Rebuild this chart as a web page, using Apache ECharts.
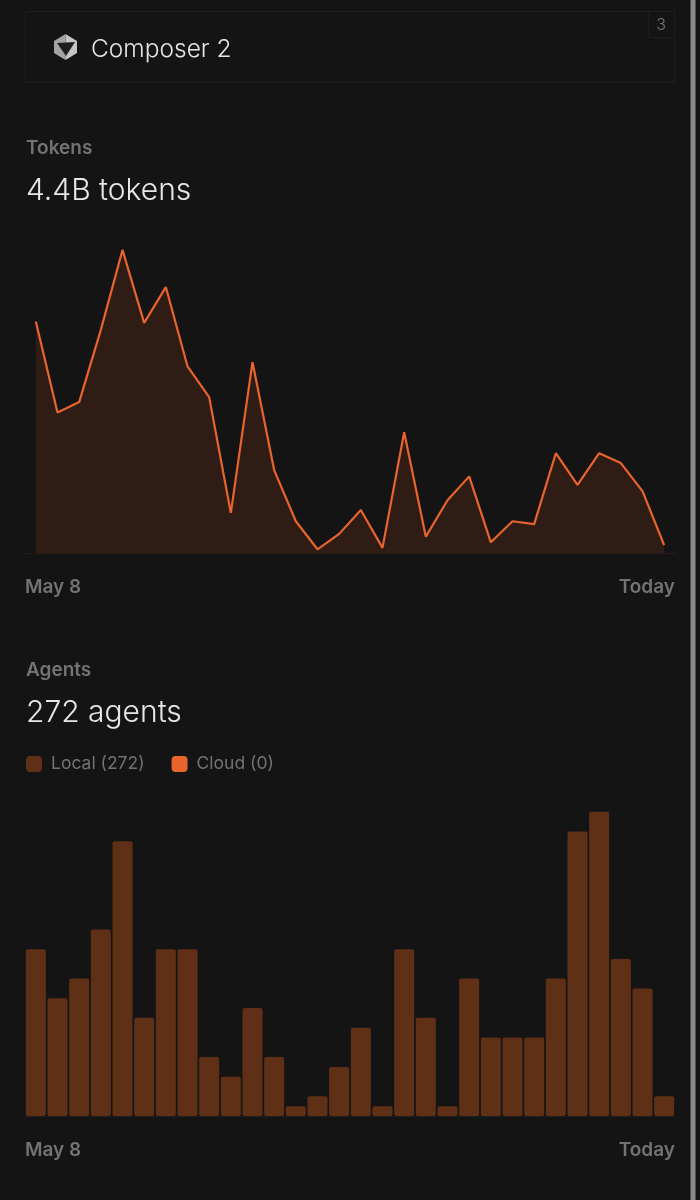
<!DOCTYPE html>
<html>
<head>
<meta charset="utf-8">
<style>html,body{margin:0;padding:0;background:#141414}#c{width:700px;height:1200px}</style>
<script src="https://cdn.jsdelivr.net/npm/echarts@6/dist/echarts.min.js"></script>
</head>
<body>
<div id="c"></div>
<script>
const days = ['May 8','May 9','May 10','May 11','May 12','May 13','May 14','May 15','May 16','May 17','May 18','May 19','May 20','May 21','May 22','May 23','May 24','May 25','May 26','May 27','May 28','May 29','May 30','May 31','Jun 1','Jun 2','Jun 3','Jun 4','Jun 5','Today'];
const endLabels = ['May 8','Today'];
const tokensMillions = [331,201,216,319,433,329,380,267,223,58,273,119,46,6,28,62,8,173,24,76,110,16,46,42,143,98,143,129,89,12];
const localAgents = [17,12,14,19,28,10,17,17,6,4,11,6,1,2,5,9,1,17,10,1,14,8,8,8,14,29,31,16,13,2];
const cloudAgents = [0,0,0,0,0,0,0,0,0,0,0,0,0,0,0,0,0,0,0,0,0,0,0,0,0,0,0,0,0,0];

const FONT = 'Inter';
const LOCAL = '#5f2f16', CLOUD = '#e8642c', FILL = '#2f1d15', MUTED = '#737373', BRIGHT = '#e6e6e6';
const grids = [
  {left:25, width:650, top:238, height:315.5},
  {left:25, width:650, top:800, height:316}
];
function catAxis(i){ return {type:'category', gridIndex:i, data:days, boundaryGap:true,
  axisLine:{show:true, lineStyle:{color:'#1f1f1f'}}, axisTick:{show:false}, axisLabel:{show:false}, splitLine:{show:false}}; }
function endAxis(i, margin){ return {type:'category', gridIndex:i, data:endLabels, boundaryGap:false, position:'bottom',
  axisLine:{show:false}, axisTick:{show:false}, splitLine:{show:false},
  axisLabel:{show:true, interval:0, margin:margin, color:MUTED, fontFamily:FONT, fontSize:19, fontWeight:600, alignMinLabel:'left', alignMaxLabel:'right'}}; }
function heading(text, top, size, weight, color, left){
  return {text:text, left:left, top:top, padding:0, textStyle:{color:color, fontFamily:FONT, fontSize:size, fontWeight:weight}};
}
const option = {
  backgroundColor:'#141414', animation:false,
  title:[
    heading('Composer 2', 37, 24.5, 300, BRIGHT, 91),
    heading('Tokens', 139, 19, 600, MUTED, 26),
    heading('4.4B tokens', 176, 30, 300, BRIGHT, 26),
    heading('Agents', 661, 19, 600, MUTED, 26),
    heading('272 agents', 698, 30, 300, BRIGHT, 26)
  ],
  legend:{left:26, top:755, padding:0, itemWidth:16, itemHeight:16, itemGap:27, icon:'roundRect', selectedMode:false,
    textStyle:{color:MUTED, fontFamily:FONT, fontSize:17.5, padding:[0,0,0,4]}, data:['Local (272)','Cloud (0)']},
  grid:grids,
  xAxis:[catAxis(0), endAxis(0,24), catAxis(1), endAxis(1,25)],
  yAxis:[
    {type:'value', gridIndex:0, min:0, max:450, show:false},
    {type:'value', gridIndex:1, min:0, max:32.2, show:false}
  ],
  series:[
    {name:'Tokens', type:'line', xAxisIndex:0, yAxisIndex:0, data:tokensMillions, symbol:'none', smooth:false,
      lineStyle:{color:CLOUD, width:2.2}, areaStyle:{color:FILL, opacity:1}},
    {name:'Local (272)', type:'bar', xAxisIndex:2, yAxisIndex:1, stack:'a', data:localAgents, barWidth:20,
      itemStyle:{color:LOCAL, borderRadius:2}},
    {name:'Cloud (0)', type:'bar', xAxisIndex:2, yAxisIndex:1, stack:'a', data:cloudAgents, barWidth:20,
      itemStyle:{color:CLOUD}}
  ],
  graphic:[
    {type:'rect', shape:{x:25.5,y:11.5,width:649,height:71}, style:{fill:'transparent', stroke:'#1e1e1e', lineWidth:1}},
    {type:'rect', shape:{x:648.5,y:11.5,width:26,height:26}, style:{fill:'transparent', stroke:'#1e1e1e', lineWidth:1}},
    {type:'rect', shape:{x:690.5,y:0,width:5,height:1200}, style:{fill:'#8a8a8a'}},
    {type:'text', x:661, y:25, style:{text:'3', fill:'#777777', font:'300 16px Inter', align:'center', verticalAlign:'middle'}},
    {type:'polygon', shape:{points:[[65.5,34],[54,41],[54,53],[65.5,60]]}, style:{fill:'#a3a3a3'}},
    {type:'polygon', shape:{points:[[65.5,34],[77,41],[77,53],[65.5,60]]}, style:{fill:'#c4c4c4'}},
    {type:'polygon', shape:{points:[[57,43],[75,42],[66,56]]}, style:{fill:'#1d1d1d'}}
  ]
};
echarts.init(document.getElementById('c'), null, {renderer:'canvas'}).setOption(option);
</script>
</body>
</html>
